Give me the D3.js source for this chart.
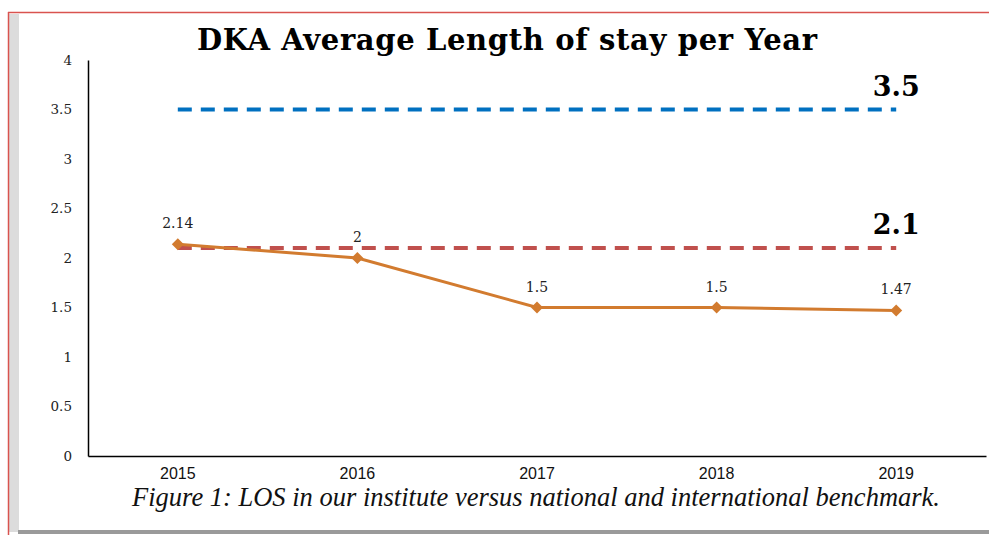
<!DOCTYPE html>
<html>
<head>
<meta charset="utf-8">
<script src="https://cdn.jsdelivr.net/npm/d3@7"></script>
<style>
  body { margin: 0; background: #fff; }
  svg { display: block; }
</style>
</head>
<body>
<script>
/* chart data */
var years = ["2015", "2016", "2017", "2018", "2019"];
var losValues = [2.14, 2, 1.5, 1.5, 1.47];
var losLabels = ["2.14", "2", "1.5", "1.5", "1.47"];
var benchmarks = [3.5, 2.1];
var benchmarkLabels = ["3.5", "2.1"];
var yTicks = [0, 0.5, 1, 1.5, 2, 2.5, 3, 3.5, 4];
var yTickLabels = ["0", "0.5", "1", "1.5", "2", "2.5", "3", "3.5", "4"];

var width = 989, height = 535;
var plot = {left: 88, right: 986, top: 60, bottom: 456};
var benchColors = ["#0070C0", "#C0504D"];
var lineColor = "#D27B2F";

var svg = d3.select("body").append("svg")
    .attr("width", width)
    .attr("height", height);

/* page frame: red border, gray shading on left and bottom */
svg.append("rect").attr("x", 9).attr("y", 14).attr("width", 10).attr("height", 518).attr("fill", "#dcdcdc");
svg.append("rect").attr("x", 18).attr("y", 530).attr("width", width - 18).attr("height", 4).attr("fill", "#9a9a9a");
svg.append("line").attr("x1", 8).attr("x2", width).attr("y1", 12.5).attr("y2", 12.5)
    .attr("stroke", "#d9534f").attr("stroke-width", 1.5);
svg.append("line").attr("x1", 8.5).attr("x2", 8.5).attr("y1", 12).attr("y2", 535)
    .attr("stroke", "#d9534f").attr("stroke-width", 1.5);

var xScale = d3.scaleBand()
    .domain(years)
    .range([plot.left, plot.right]);

var yScale = d3.scaleLinear()
    .domain([0, 4])
    .range([plot.bottom, plot.top]);

function xc(d) { return xScale(d) + xScale.bandwidth() / 2; }

/* title */
svg.append("text")
    .attr("x", 507)
    .attr("y", 50)
    .attr("text-anchor", "middle")
    .style("font-family", "'DejaVu Serif', serif")
    .style("font-weight", "bold")
    .style("font-size", "29px")
    .attr("textLength", 620)
    .text("DKA Average Length of stay per Year");

/* y axis */
var yAxis = d3.axisLeft(yScale)
    .tickValues(yTicks)
    .tickSize(0)
    .tickPadding(16)
    .tickFormat(function(d, i) { return yTickLabels[i]; });

var gy = svg.append("g")
    .attr("transform", "translate(" + plot.left + ",0)")
    .call(yAxis);
gy.select(".domain").attr("stroke", "#000").attr("stroke-width", 1.5);
gy.selectAll("text")
    .style("font-family", "'DejaVu Serif', serif")
    .style("font-size", "13.5px")
    .attr("fill", "#222");

/* x axis */
var xAxis = d3.axisBottom(xScale).tickSize(0).tickPadding(12);
var gx = svg.append("g")
    .attr("transform", "translate(0," + plot.bottom + ")")
    .call(xAxis);
gx.select(".domain").attr("stroke", "#000").attr("stroke-width", 1.5);
gx.selectAll("text")
    .style("font-family", "'Liberation Sans', Arial, sans-serif")
    .style("font-size", "16px")
    .attr("fill", "#111");

/* benchmark dashed lines */
benchmarks.forEach(function(b, i) {
    svg.append("line")
        .attr("x1", xc(years[0]))
        .attr("x2", xc(years[years.length - 1]))
        .attr("y1", yScale(b))
        .attr("y2", yScale(b))
        .attr("stroke", benchColors[i])
        .attr("stroke-width", 4)
        .attr("stroke-dasharray", "14,9");
    svg.append("text")
        .attr("x", xc(years[years.length - 1]))
        .attr("y", yScale(b) - 14)
        .attr("text-anchor", "middle")
        .style("font-family", "'DejaVu Serif', serif")
        .style("font-weight", "bold")
        .style("font-size", "27px")
        .text(benchmarkLabels[i]);
});

/* LOS line with diamond markers */
var line = d3.line()
    .x(function(d, i) { return xc(years[i]); })
    .y(function(d) { return yScale(d); });

svg.append("path")
    .datum(losValues)
    .attr("d", line)
    .attr("fill", "none")
    .attr("stroke", lineColor)
    .attr("stroke-width", 3);

svg.selectAll(".marker")
    .data(losValues)
    .enter()
    .append("path")
    .attr("class", "marker")
    .attr("d", d3.symbol().type(d3.symbolSquare).size(72))
    .attr("transform", function(d, i) { return "translate(" + xc(years[i]) + "," + yScale(d) + ") rotate(45)"; })
    .attr("fill", lineColor);

svg.selectAll(".dlabel")
    .data(losValues)
    .enter()
    .append("text")
    .attr("class", "dlabel")
    .attr("x", function(d, i) { return xc(years[i]); })
    .attr("y", function(d) { return yScale(d) - 16; })
    .attr("text-anchor", "middle")
    .style("font-family", "'DejaVu Serif', serif")
    .style("font-size", "14px")
    .attr("fill", "#222")
    .text(function(d, i) { return losLabels[i]; });

/* caption */
svg.append("text")
    .attr("x", 536)
    .attr("y", 506)
    .attr("text-anchor", "middle")
    .style("font-family", "'Liberation Serif', 'Times New Roman', serif")
    .style("font-style", "italic")
    .style("font-size", "26.5px")
    .attr("fill", "#111")
    .text("Figure 1: LOS in our institute versus national and international benchmark.");
</script>
</body>
</html>
